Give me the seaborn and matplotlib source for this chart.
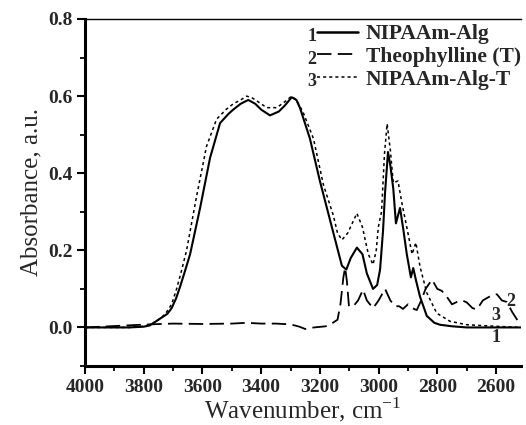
import matplotlib
matplotlib.use("Agg")
import matplotlib.pyplot as plt
import seaborn as sns
import pandas as pd
from matplotlib.ticker import MultipleLocator

# ---- data ----
wn_alg = [4000, 3850, 3800, 3780, 3750, 3720, 3705, 3690, 3676, 3660, 3642, 3608, 3574, 3540,
          3510, 3495, 3470, 3444, 3420, 3400, 3370, 3340, 3320, 3296, 3280, 3268, 3234, 3200,
          3154, 3125, 3110, 3095, 3074, 3055, 3040, 3019, 3005, 2995, 2985, 2978, 2968, 2960,
          2950, 2941, 2927, 2915, 2904, 2890, 2882, 2872, 2859, 2836, 2810, 2791, 2750, 2700, 2515]
abs_alg = [0.0, 0.0, 0.002, 0.005, 0.02, 0.035, 0.05, 0.075, 0.106, 0.145, 0.19, 0.31, 0.44, 0.53,
           0.555, 0.565, 0.58, 0.59, 0.58, 0.565, 0.55, 0.56, 0.575, 0.597, 0.59, 0.57, 0.49, 0.38,
           0.245, 0.16, 0.15, 0.18, 0.207, 0.19, 0.14, 0.10, 0.11, 0.15, 0.25, 0.35, 0.455, 0.42,
           0.36, 0.27, 0.31, 0.25, 0.19, 0.13, 0.154, 0.12, 0.08, 0.03, 0.012, 0.007, 0.003, 0.0, 0.0]

wn_theo = [4000, 3780, 3700, 3600, 3500, 3450, 3400, 3350, 3300, 3270, 3250, 3220, 3180, 3160,
           3140, 3130, 3120, 3114, 3108, 3101, 3086, 3070, 3053, 3040, 3019, 3000, 2978, 2960,
           2944, 2930, 2917, 2900, 2885, 2870, 2855, 2840, 2818, 2800, 2785, 2768, 2750, 2731,
           2715, 2700, 2680, 2665, 2645, 2627, 2610, 2597, 2580, 2563, 2545, 2529, 2520]
abs_theo = [0.0, 0.008, 0.01, 0.009, 0.01, 0.012, 0.01, 0.01, 0.008, 0.002, -0.004, 0.0, 0.003, 0.01,
            0.02, 0.06, 0.13, 0.155, 0.12, 0.055, 0.055, 0.07, 0.098, 0.07, 0.05, 0.07, 0.1, 0.07,
            0.055, 0.055, 0.048, 0.06, 0.05, 0.045, 0.07, 0.1, 0.124, 0.10, 0.095, 0.08, 0.06, 0.067,
            0.07, 0.065, 0.05, 0.047, 0.07, 0.078, 0.085, 0.086, 0.07, 0.066, 0.04, 0.021, 0.005]

wn_algt = [4000, 3850, 3800, 3770, 3740, 3722, 3705, 3688, 3672, 3654, 3620, 3586, 3552, 3520,
           3495, 3470, 3449, 3430, 3410, 3381, 3347, 3320, 3296, 3280, 3256, 3222, 3188, 3154,
           3140, 3125, 3105, 3074, 3055, 3035, 3019, 3008, 3001, 2990, 2980, 2971, 2960, 2950,
           2934, 2920, 2904, 2886, 2873, 2859, 2836, 2802, 2757, 2700, 2600, 2515]
abs_algt = [0.0, 0.0, 0.003, 0.01, 0.025, 0.04, 0.06, 0.1, 0.145, 0.2, 0.34, 0.47, 0.54, 0.565,
            0.58, 0.59, 0.60, 0.595, 0.585, 0.57, 0.57, 0.585, 0.60, 0.59, 0.556, 0.49, 0.37, 0.29,
            0.245, 0.227, 0.245, 0.296, 0.26, 0.19, 0.163, 0.2, 0.26, 0.3, 0.45, 0.528, 0.46, 0.375,
            0.38, 0.32, 0.26, 0.19, 0.22, 0.158, 0.09, 0.037, 0.016, 0.007, 0.003, 0.0]

series_names = ["NIPAAm-Alg", "Theophylline (T)", "NIPAAm-Alg-T"]
series_nums = ["1", "2", "3"]
x_ticks = [4000, 3800, 3600, 3400, 3200, 3000, 2800, 2600]
y_ticks = [0.0, 0.2, 0.4, 0.6, 0.8]

# ---- style ----
sns.set_style("ticks")
plt.rcParams["font.family"] = ["Liberation Serif", "DejaVu Serif"]
plt.rcParams["mathtext.fontset"] = "custom"
plt.rcParams["mathtext.rm"] = "Liberation Serif"

fig = plt.figure(figsize=(5.26, 4.25), dpi=100)
ax = fig.add_axes([85 / 526, 1 - 366 / 425, (521 - 85) / 526, (366 - 19) / 425])

df1 = pd.DataFrame({"wn": wn_alg, "a": abs_alg})
df2 = pd.DataFrame({"wn": wn_theo, "a": abs_theo})
df3 = pd.DataFrame({"wn": wn_algt, "a": abs_algt})

sns.lineplot(data=df1, x="wn", y="a", ax=ax, sort=False, estimator=None, color="black",
             lw=1.5, label=series_names[0])
sns.lineplot(data=df2, x="wn", y="a", ax=ax, sort=False, estimator=None, color="black",
             lw=1.3, label=series_names[1])
sns.lineplot(data=df3, x="wn", y="a", ax=ax, sort=False, estimator=None, color="black",
             lw=1.1, label=series_names[2])
lines = ax.get_lines()
lines[1].set_dashes((8, 3.5))
lines[2].set_dashes((2, 2))

ax.set_xlim(4000, 2515)
ax.set_ylim(-0.1, 0.8)
ax.set_xticks(x_ticks)
ax.set_yticks(y_ticks)
ax.xaxis.set_minor_locator(MultipleLocator(100))
ax.yaxis.set_minor_locator(MultipleLocator(0.1))
ax.set_xticklabels([str(t) for t in x_ticks], fontweight="bold", fontsize=14)
ax.set_yticklabels([f"{t:.1f}" for t in y_ticks], fontweight="bold", fontsize=14)
ax.tick_params(axis="both", which="major", direction="out", length=6, width=1.5, pad=3, color="black")
ax.tick_params(axis="both", which="minor", direction="out", length=3.5, width=1.3, color="black")

ax.spines["left"].set_linewidth(2.2)
ax.spines["bottom"].set_linewidth(2.2)
ax.spines["top"].set_linewidth(1.0)
ax.spines["right"].set_visible(False)
for s in ax.spines.values():
    s.set_color("black")

ax.set_xlabel("Wavenumber, cm$^{-1}$", fontsize=18, labelpad=0)
ax.set_ylabel("Absorbance, a.u.", fontsize=18, labelpad=4)

leg = ax.legend(loc="upper right", bbox_to_anchor=(1.0, 0.985), frameon=False,
                prop={"family": "Liberation Serif", "weight": "bold", "size": 15.5},
                handlelength=1.9, handletextpad=0.35, labelspacing=0.12, borderaxespad=0,
                borderpad=0)
leg_lines = leg.get_lines()
leg_lines[0].set_linewidth(1.8)
leg_lines[1].set_dashes((8, 3.5))
leg_lines[2].set_dashes((2, 2))

# curve numbers at the left of the legend line samples
fig.canvas.draw()
inv = ax.transAxes.inverted()
for ln, num in zip(leg_lines, series_nums):
    bb = ln.get_window_extent(fig.canvas.get_renderer())
    x0, y0 = inv.transform((bb.x0, (bb.y0 + bb.y1) / 2))
    ax.text(x0 - 0.002, y0 - 0.008, num, transform=ax.transAxes, ha="right", va="center_baseline",
            fontsize=13, fontweight="bold")

# curve numbers at the end of the curves
ax.text(2600, -0.027, "1", ha="center", va="center", fontsize=13, fontweight="bold")
ax.text(2551, 0.068, "2", ha="center", va="center", fontsize=13, fontweight="bold")
ax.text(2601, 0.032, "3", ha="center", va="center", fontsize=13, fontweight="bold")

fig.savefig("out.png", dpi=100)
